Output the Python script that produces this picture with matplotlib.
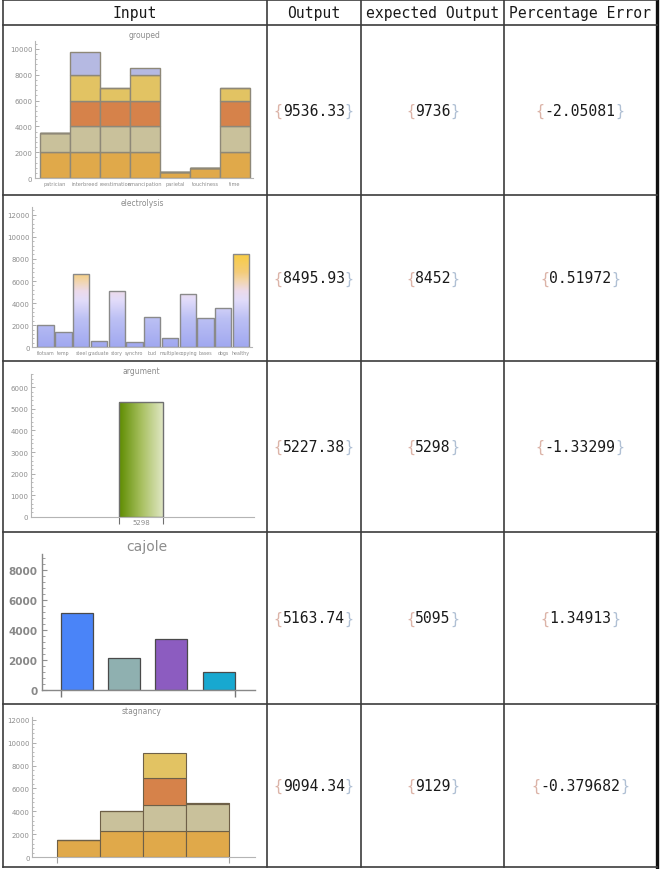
import numpy as np
import matplotlib
matplotlib.use("Agg")
import matplotlib.pyplot as plt
from matplotlib.colors import LinearSegmentedColormap
from matplotlib.ticker import AutoMinorLocator, MultipleLocator

W, H = 662, 870

# ---- table data ----
headers = ["Input", "Output", "expected Output", "Percentage Error"]
outputs = ["9536.33", "8495.93", "5227.38", "5163.74", "9094.34"]
expected = ["9736", "8452", "5298", "5095", "9129"]
errors = ["-2.05081", "0.51972", "-1.33299", "1.34913", "-0.379682"]

# ---- chart data ----
grouped_labels = ["patrician", "interbreed", "reestimation", "emancipation",
                  "parietal", "touchiness", "time"]
grouped_layers = [
    [2000, 2000, 2000, 2000, 500, 800, 2000],
    [1500, 2000, 2000, 2000, 0, 0, 2000],
    [0, 2000, 2000, 2000, 0, 0, 2000],
    [0, 2000, 1000, 2000, 0, 0, 1000],
    [0, 1736, 0, 500, 0, 0, 0],
]
electro_labels = ["flotsam", "temp", "steel", "graduate", "story", "synchro",
                  "bud", "multiple", "copying", "bases", "dogs", "healthy"]
electro_values = [2000, 1400, 6600, 550, 5050, 500, 2750, 850, 4800, 2650, 3550, 8452]
argument_labels = ["5298"]
argument_values = [5298]
cajole_values = [5095, 2100, 3350, 1150]
stag_layers = [
    [1550, 2300, 2300, 2300],
    [0, 1750, 2250, 2350],
    [0, 0, 2350, 70],
    [0, 0, 2229, 0],
]

layer_colors = ["#e0a94a", "#c9c19b", "#d6824a", "#e2c363", "#b5b9e2"]
cajole_colors = ["#4a84f8", "#8fb0b0", "#8c5cc0", "#18a8d0"]

fig = plt.figure(figsize=(W / 100, H / 100), dpi=100)
bg = fig.add_axes([0, 0, 1, 1])
bg.set_xlim(0, W)
bg.set_ylim(H, 0)
bg.axis("off")

# table grid
col_x = [2.5, 266.5, 361, 504]
row_y = [1, 26, 196, 362, 533, 705, 868]
for x in col_x:
    bg.plot([x, x], [row_y[0], row_y[-1]], color="#3c3c3c", lw=1.2)
bg.plot([656.5, 656.5], [row_y[0], row_y[-1]], color="#111111", lw=2.4)
for y in row_y:
    bg.plot([2.5, 656.5], [y, y], color="#3c3c3c", lw=1.2)

mono = "DejaVu Sans Mono"
fs = 10.6
cw = 0.602 * fs * 100 / 72
col_centers = [134.5, 313.7, 432.5, 580]
for c, h in zip(col_centers, headers):
    bg.text(c, 13.5, h, ha="center", va="center", family=mono, fontsize=fs, color="#1a1a1a")

row_centers = [(row_y[i + 1] + row_y[i + 2]) / 2 for i in range(5)]


def cell(xc, yc, s):
    n = len(s) + 2
    x0 = xc - n * cw / 2
    bg.text(x0, yc, "{", ha="left", va="center", family=mono, fontsize=fs, color="#dcb4a8")
    bg.text(x0 + cw, yc, s, ha="left", va="center", family=mono, fontsize=fs, color="#1a1a1a")
    bg.text(x0 + (n - 1) * cw, yc, "}", ha="left", va="center", family=mono, fontsize=fs, color="#b0c0d4")


for i in range(5):
    cell(col_centers[1], row_centers[i], outputs[i])
    cell(col_centers[2], row_centers[i], expected[i])
    cell(col_centers[3], row_centers[i], errors[i])


def chart_axes(left, top, right, bottom):
    ax = fig.add_axes([left / W, 1 - bottom / H, (right - left) / W, (bottom - top) / H])
    ax.set_facecolor("none")
    for s in ["top", "right"]:
        ax.spines[s].set_visible(False)
    for s in ["left", "bottom"]:
        ax.spines[s].set_color("#b4b4b4")
        ax.spines[s].set_linewidth(0.8)
    return ax


def style_y(ax, step, size):
    ax.yaxis.set_major_locator(MultipleLocator(step))
    ax.yaxis.set_minor_locator(AutoMinorLocator(5))
    ax.tick_params(axis="y", which="major", direction="in", length=3, width=0.6,
                   color="#a0a0a0", labelsize=size, labelcolor="#8c8c8c", pad=2)
    ax.tick_params(axis="y", which="minor", direction="in", length=1.5, width=0.5, color="#a0a0a0")


title_kw = dict(ha="center", va="center", color="#8c8c8c")

# ---- chart 1: grouped ----
ax1 = chart_axes(35, 42, 253, 179)
x1 = np.arange(len(grouped_labels))
bottom = np.zeros(len(x1))
for vals, col in zip(grouped_layers, layer_colors):
    vals = np.array(vals, dtype=float)
    ax1.bar(x1, vals, bottom=bottom, width=1.0, color=col, edgecolor="#8e8878", linewidth=1.0)
    bottom += vals
ax1.set_xlim(-0.667, 6.6)
ax1.set_ylim(0, 10620)
style_y(ax1, 2000, 5)
ax1.set_xticks(x1, grouped_labels)
ax1.tick_params(axis="x", length=0, labelsize=3.6, labelcolor="#8c8c8c", pad=2)
bg.text(145, 35, "grouped", fontsize=5.5, **title_kw)

# ---- chart 2: electrolysis ----
ax2 = chart_axes(32.3, 208.3, 251.7, 348.3)
x2 = np.arange(len(electro_values))
cm2 = LinearSegmentedColormap.from_list("el", [
    (0.0, "#a0a8f0"), (0.3, "#bcc0f4"), (0.5, "#e2dcfa"), (0.6, "#ecdaea"),
    (0.7, "#f2d6b0"), (0.8, "#f4cc78"), (1.0, "#f8cc40")])
vmax = max(electro_values)
grad = np.linspace(0, 1, 256).reshape(-1, 1)
bars2 = ax2.bar(x2, electro_values, width=0.92, facecolor="none", edgecolor="#8a8a8a",
                linewidth=1.0, zorder=3)
for b in bars2:
    im = ax2.imshow(grad, extent=[b.get_x(), b.get_x() + b.get_width(), 0, vmax],
                    origin="lower", aspect="auto", cmap=cm2, zorder=2)
    im.set_clip_path(b)
ax2.set_xlim(-0.75, 11.6)
ax2.set_ylim(0, 12670)
style_y(ax2, 2000, 5)
ax2.set_xticks(x2, electro_labels)
ax2.tick_params(axis="x", length=0, labelsize=3.4, labelcolor="#8c8c8c", pad=2)
bg.text(142, 203, "electrolysis", fontsize=5.5, **title_kw)

# ---- chart 3: argument ----
ax3 = chart_axes(31, 375, 254, 517.7)
cm3 = LinearSegmentedColormap.from_list("gr", ["#5e8c00", "#a8c060", "#e2e8c8"])
bars3 = ax3.bar([0], argument_values, width=1.0, facecolor="none", edgecolor="#707070",
                linewidth=1.0, zorder=3)
hgrad = np.linspace(0, 1, 256).reshape(1, -1)
for b in bars3:
    im = ax3.imshow(hgrad, extent=[b.get_x(), b.get_x() + b.get_width(), 0, b.get_height()],
                    origin="lower", aspect="auto", cmap=cm3, zorder=2)
ax3.set_xlim(-2.507, 2.56)
ax3.set_ylim(0, 6617)
style_y(ax3, 1000, 5)
ax3.set_xticks([0], argument_labels)
ax3.set_xticks([-0.5, 0.5], minor=True)
ax3.tick_params(axis="x", which="major", length=0, labelsize=5, labelcolor="#8c8c8c", pad=1.5)
ax3.tick_params(axis="x", which="minor", direction="out", length=5, width=0.8, color="#707070")
bg.text(141, 372, "argument", fontsize=5.5, **title_kw)

# ---- chart 4: cajole ----
ax4 = chart_axes(41.7, 555, 255, 690.7)
x4 = np.arange(len(cajole_values))
ax4.bar(x4, cajole_values, width=0.677, color=cajole_colors, edgecolor="#4a4a4a", linewidth=0.9)
ax4.set_xlim(-0.742, 3.767)
ax4.set_ylim(0, 9047)
ax4.yaxis.set_major_locator(MultipleLocator(2000))
ax4.yaxis.set_minor_locator(AutoMinorLocator(5))
ax4.tick_params(axis="y", which="major", direction="in", length=3.5, width=0.8,
                color="#909090", labelsize=7.5, labelcolor="#888888", pad=3)
ax4.tick_params(axis="y", which="minor", direction="in", length=1.8, width=0.6, color="#909090")
for lbl in ax4.get_yticklabels():
    lbl.set_fontweight("bold")
ax4.spines["left"].set_color("#888888")
ax4.spines["bottom"].set_color("#888888")
ax4.spines["left"].set_linewidth(1.0)
ax4.spines["bottom"].set_linewidth(1.0)
ax4.set_xticks([-0.3385, 3.3385], ["", ""])
ax4.tick_params(axis="x", direction="out", length=5, width=1.0, color="#777777")
bg.text(147, 547, "cajole", fontsize=10, **title_kw)

# ---- chart 5: stagnancy ----
ax5 = chart_axes(32.3, 718.3, 255, 858.3)
x5 = np.arange(len(stag_layers[0]))
bottom = np.zeros(len(x5))
for vals, col in zip(stag_layers, layer_colors):
    vals = np.array(vals, dtype=float)
    ax5.bar(x5, vals, bottom=bottom, width=1.0, color=col, edgecolor="#6e6048", linewidth=0.8)
    bottom += vals
ax5.set_xlim(-1.08, 4.1)
ax5.set_ylim(0, 12209)
style_y(ax5, 2000, 5)
ax5.set_xticks([-0.5, 3.5], ["", ""])
ax5.tick_params(axis="x", direction="out", length=4, width=0.8, color="#a0a0a0")
bg.text(142, 712, "stagnancy", fontsize=5.5, **title_kw)

fig.savefig("out.png", dpi=100)
